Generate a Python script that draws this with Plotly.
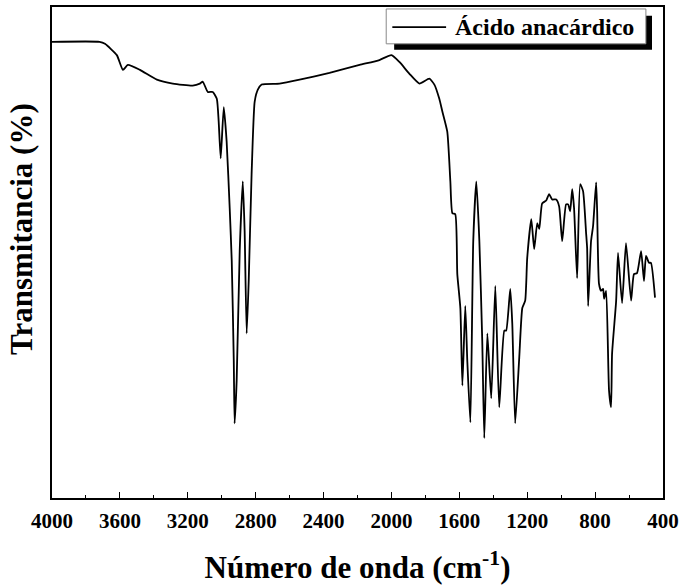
import plotly.graph_objects as go

# FTIR spectrum of anacardic acid
wavenumber = [4000, 3720, 3688, 3618, 3582, 3553, 3482, 3382, 3288, 3171, 3129, 3112,
              3082, 3053, 3029, 3018, 3006, 2988, 2971, 2953, 2941, 2929, 2924, 2912,
              2894, 2876, 2865, 2853, 2841, 2824, 2806, 2788, 2765, 2659, 2541, 2365,
              2188, 2071, 2000, 1953, 1894, 1835, 1777, 1747, 1718, 1700, 1671, 1653,
              1641, 1624, 1612, 1594, 1582, 1565, 1553, 1535, 1518, 1500, 1482, 1465,
              1453, 1435, 1412, 1388, 1365, 1335, 1324, 1300, 1288, 1271, 1247, 1229,
              1212, 1200, 1176, 1159, 1141, 1129, 1112, 1088, 1071, 1053, 1029, 1012,
              994, 971, 959, 947, 935, 924, 906, 888, 871, 853, 847, 841, 824, 812,
              794, 788, 777, 765, 753, 747, 735, 718, 706, 700, 676, 665, 641, 618,
              588, 571, 553, 529, 512, 500, 482, 471, 447]
transmittance = [92.9, 92.9, 92.5, 90.2, 87.2, 88.2, 87.2, 85.2, 84.4, 84.0, 84.4, 84.8,
                 82.7, 82.7, 81.3, 76.7, 69.2, 79.6, 72.6, 59.0, 48.3, 28.0, 15.2, 23.9,
                 50.3, 64.5, 54.4, 33.5, 44.2, 65.9, 80.7, 83.1, 84.2, 84.4, 85.2, 86.6,
                 88.2, 89.2, 90.2, 88.8, 86.4, 84.4, 85.4, 84.2, 81.3, 78.7, 74.6, 64.5,
                 58.0, 57.8, 45.6, 38.7, 22.9, 39.1, 27.9, 15.4, 52.3, 64.5, 52.3, 32.0,
                 12.2, 33.5, 20.3, 43.2, 18.5, 34.1, 34.1, 42.6, 35.5, 15.2, 28.6, 38.7,
                 40.2, 48.9, 56.8, 50.7, 56.0, 54.8, 60.0, 60.6, 61.9, 60.8, 60.8, 59.4,
                 52.3, 59.8, 59.8, 58.4, 62.9, 59.0, 44.8, 63.9, 62.5, 53.9, 50.9, 39.1,
                 52.3, 55.4, 64.3, 58.4, 43.6, 42.2, 42.6, 40.6, 42.2, 21.9, 18.5, 29.4,
                 40.2, 49.9, 39.7, 51.9, 40.2, 45.6, 45.8, 50.3, 44.2, 49.3, 47.9, 47.9,
                 40.8]

series_name = "Ácido anacárdico"
tick_values = [4000, 3600, 3200, 2800, 2400, 2000, 1600, 1200, 800, 400]
tick_labels = [str(v) for v in tick_values]

FONT = "Liberation Serif"

fig = go.Figure()
fig.add_trace(go.Scatter(
    x=wavenumber, y=transmittance, mode="lines",
    line=dict(color="black", width=1.8, shape="spline", smoothing=0.5),
    name=series_name, showlegend=False, hoverinfo="skip"))

fig.update_layout(
    width=684, height=588,
    margin=dict(l=52, r=20, t=5, b=90),
    paper_bgcolor="white", plot_bgcolor="white",
    font=dict(family=FONT, color="black"),
    xaxis=dict(
        range=[4000, 400], tickvals=tick_values, ticktext=tick_labels,
        ticks="inside", ticklen=6, tickwidth=1.2, tickcolor="black",
        minor=dict(dtick=200, ticks="inside", ticklen=3, tickwidth=1.2, tickcolor="black"),
        showline=True, linecolor="black", linewidth=1.5, mirror=True,
        showgrid=False, zeroline=False,
        ticklabelstandoff=3,
        tickfont=dict(family=FONT, size=21, color="black", weight="bold"),
        title=dict(text="Número de onda (cm<sup>-1</sup>)",
                   font=dict(family=FONT, size=31, color="black", weight="bold"),
                   standoff=24),
    ),
    yaxis=dict(
        range=[0, 100], showticklabels=False, ticks="",
        showline=True, linecolor="black", linewidth=1.5, mirror=True,
        showgrid=False, zeroline=False,
    ),
)

# y-axis title (placed slightly above centre, as in the reference)
fig.add_annotation(xref="paper", yref="paper", x=-0.049, y=0.548,
                   xanchor="center", yanchor="middle", showarrow=False,
                   textangle=-90, text="Transmitancia (%)",
                   font=dict(family=FONT, size=31, color="black", weight="bold"))

# legend box with drop shadow
fig.add_shape(type="rect", xref="paper", yref="paper",
              x0=0.560, x1=0.982, y0=0.913, y1=0.982,
              fillcolor="black", line=dict(width=0), layer="above")
fig.add_shape(type="rect", xref="paper", yref="paper",
              x0=0.547, x1=0.972, y0=0.925, y1=0.996,
              fillcolor="white", line=dict(color="#888888", width=1), layer="above")
fig.add_shape(type="line", xref="paper", yref="paper",
              x0=0.557, x1=0.645, y0=0.959, y1=0.959,
              line=dict(color="black", width=1.8), layer="above")
fig.add_annotation(xref="paper", yref="paper", x=0.657, y=0.960,
                   xanchor="left", yanchor="middle", showarrow=False,
                   text=series_name,
                   font=dict(family=FONT, size=24, color="black", weight="bold"))

fig.write_html("out.html", config={"displayModeBar": False},
               post_script="document.body.style.margin='0';")
